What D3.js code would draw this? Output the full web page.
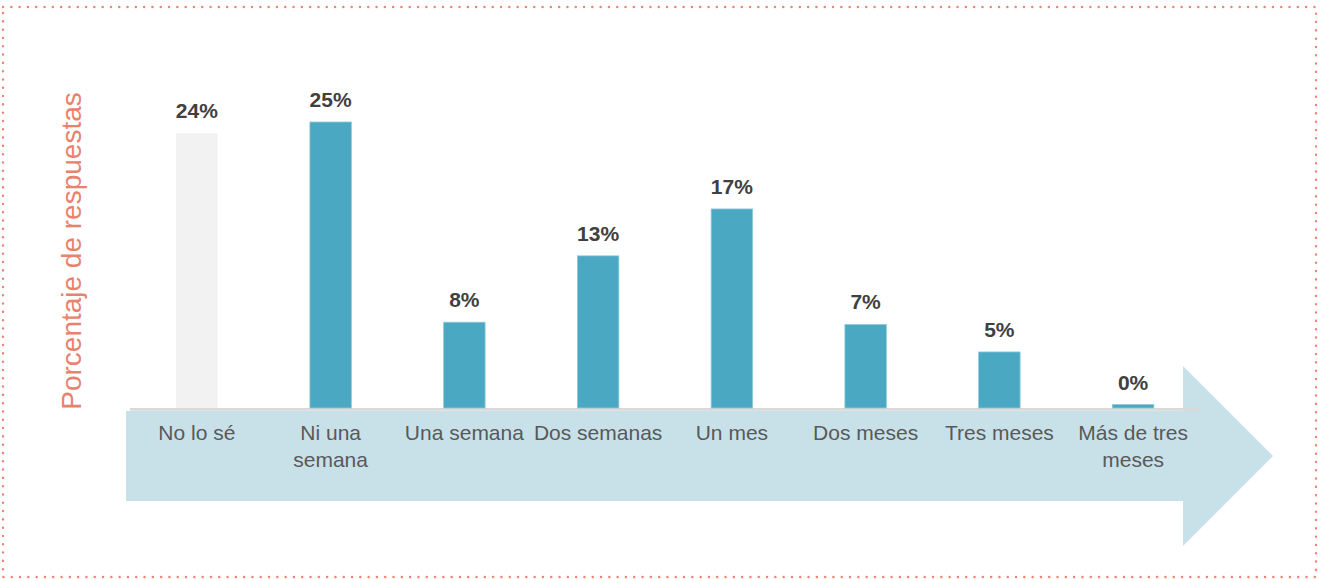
<!DOCTYPE html>
<html>
<head>
<meta charset="utf-8">
<script src="https://cdn.jsdelivr.net/npm/d3@7"></script>
<style>
  body { margin: 0; background: #fff; }
  svg { display: block; font-family: "Liberation Sans", Arial, sans-serif; }
  .val { font-weight: bold; font-size: 21px; fill: #404040; }
  .cat { font-size: 21px; fill: #595959; }
  .ylabel { font-size: 28px; fill: #E9826C; }
</style>
</head>
<body>
<svg id="chart" width="1319" height="579"></svg>
<script>
// data
var categories = [["No lo sé"], ["Ni una", "semana"], ["Una semana"], ["Dos semanas"],
                  ["Un mes"], ["Dos meses"], ["Tres meses"], ["Más de tres", "meses"]];
var values = [24, 25, 7.5, 13.3, 17.4, 7.3, 4.9, 0.3];
var colors = ["#F2F2F2", "#4BA8C2", "#4BA8C2", "#4BA8C2", "#4BA8C2", "#4BA8C2", "#4BA8C2", "#4BA8C2"];

var width = 1319, height = 579;
var baseline = 408;
var svg = d3.select("#chart");

// dotted frame
svg.append("rect")
  .attr("x", 3).attr("y", 7)
  .attr("width", width - 6).attr("height", height - 9)
  .attr("fill", "none")
  .attr("stroke", "#EF8570")
  .attr("stroke-width", 2.4)
  .attr("stroke-linecap", "round")
  .attr("stroke-dasharray", "0.1 8.2");

// big arrow behind the categories
var arrow = d3.path();
arrow.moveTo(126, 411);
arrow.lineTo(1183, 411);
arrow.lineTo(1183, 366);
arrow.lineTo(1273, 456);
arrow.lineTo(1183, 546);
arrow.lineTo(1183, 501);
arrow.lineTo(126, 501);
arrow.closePath();
svg.append("path").attr("d", arrow.toString()).attr("fill", "#C8E1E9");

var x = d3.scaleBand()
  .domain(d3.range(categories.length))
  .range([130, 1200])
  .paddingInner(0.69)
  .paddingOuter(0.345);

var y = d3.scaleLinear()
  .domain([0, 25])
  .range([baseline, baseline - 286]);

// axis line
svg.append("line")
  .attr("x1", 130).attr("x2", 1200)
  .attr("y1", baseline + 1.3).attr("y2", baseline + 1.3)
  .attr("stroke", "#D9D9D9").attr("stroke-width", 2.8);

svg.selectAll(".bar")
  .data(values)
  .enter().append("rect")
  .attr("class", "bar")
  .attr("x", function(d, i) { return x(i); })
  .attr("y", function(d) { return y(d); })
  .attr("width", x.bandwidth())
  .attr("height", function(d) { return y(0) - y(d); })
  .attr("fill", function(d, i) { return colors[i]; })
  .attr("stroke", function(d, i) { return i == 0 ? "none" : "#8CCBDC"; })
  .attr("stroke-width", 0.8);

svg.selectAll(".val")
  .data(values)
  .enter().append("text")
  .attr("class", "val")
  .attr("x", function(d, i) { return x(i) + x.bandwidth()/2; })
  .attr("y", function(d) { return y(d) - 15; })
  .attr("text-anchor", "middle")
  .text(function(d) { return Math.round(d) + "%"; });

// category labels, one tspan per line
var cat = svg.selectAll(".cat")
  .data(categories)
  .enter().append("text")
  .attr("class", "cat")
  .attr("text-anchor", "middle")
  .attr("transform", function(d, i) { return "translate(" + (x(i) + x.bandwidth()/2) + ", 440)"; });

cat.selectAll("tspan")
  .data(function(d) { return d; })
  .enter().append("tspan")
  .attr("x", 0)
  .attr("y", function(d, j) { return j * 27; })
  .text(function(d) { return d; });

svg.append("text")
  .attr("class", "ylabel")
  .attr("text-anchor", "middle")
  .attr("transform", "translate(81, 251) rotate(-90)")
  .text("Porcentaje de respuestas");
</script>
</body>
</html>
